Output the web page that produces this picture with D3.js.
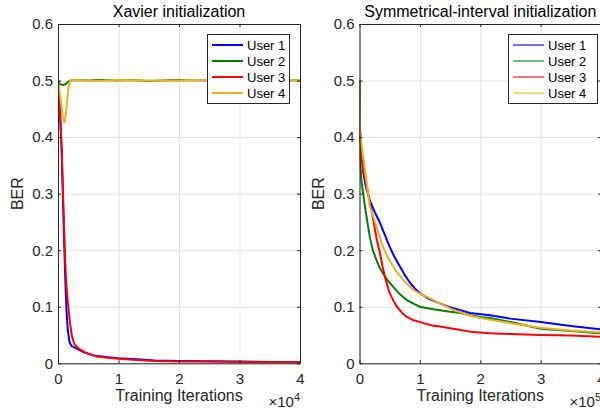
<!DOCTYPE html>
<html><head><meta charset="utf-8">
<script src="https://cdn.jsdelivr.net/npm/d3@7"></script>
<style>body{margin:0;background:#fff} svg{display:block}</style>
</head><body>
<svg id="c" width="600" height="412"></svg>
<script>
// ---------- data ----------
const users = ["User 1", "User 2", "User 3", "User 4"];
const colors = ["#0000ff", "#008000", "#ff0000", "#edb120"];
const titles = ["Xavier initialization", "Symmetrical-interval initialization"];
const exponents = ["4", "5"];
const xTicks = [0, 1, 2, 3, 4];
const xTickLabels = ["0", "1", "2", "3", "4"];
const yTicks = [0, 0.1, 0.2, 0.3, 0.4, 0.5, 0.6];
const yTickLabels = ["0", "0.1", "0.2", "0.3", "0.4", "0.5", "0.6"];
const xLabel = "Training Iterations";
const yLabel = "BER";

// Xavier initialization (x in units of 1e4)
const xavierUser1 = [[0,0.5],[0.03,0.45],[0.06,0.38],[0.08,0.30],[0.10,0.22],[0.12,0.15],[0.14,0.095],[0.16,0.06],[0.19,0.038],[0.22,0.031],[0.31,0.026],[0.42,0.020],[0.58,0.014],[0.8,0.011],[1.0,0.009],[1.3,0.007],[1.6,0.005],[2.0,0.004],[2.5,0.0035],[3.0,0.003],[3.5,0.0025],[4.0,0.002]];
const xavierUser2 = [[0,0.5],[0.03,0.494],[0.08,0.492],[0.13,0.494],[0.18,0.499],[0.25,0.501],[0.5,0.500],[0.7,0.501],[1.0,0.500],[1.2,0.501],[1.5,0.499],[2.0,0.501],[2.5,0.500],[3.0,0.499],[3.5,0.501],[4.0,0.500]];
const xavierUser3 = [[0,0.5],[0.03,0.45],[0.06,0.38],[0.08,0.31],[0.10,0.24],[0.12,0.18],[0.14,0.135],[0.17,0.10],[0.20,0.07],[0.23,0.048],[0.27,0.034],[0.34,0.026],[0.47,0.018],[0.64,0.012],[0.82,0.010],[1.0,0.008],[1.3,0.006],[1.6,0.004],[2.0,0.003],[2.5,0.003],[3.0,0.0025],[3.5,0.002],[4.0,0.002]];
const xavierUser4 = [[0,0.5],[0.04,0.47],[0.08,0.435],[0.11,0.426],[0.14,0.45],[0.17,0.485],[0.20,0.500],[0.3,0.501],[0.6,0.499],[1.0,0.501],[1.4,0.500],[1.8,0.499],[2.2,0.501],[2.6,0.500],[3.0,0.502],[3.4,0.500],[3.8,0.501],[4.0,0.500]];

// Symmetrical-interval initialization (x in units of 1e5)
const symUser1 = [[0,0.5],[0.005,0.42],[0.02,0.385],[0.06,0.34],[0.10,0.315],[0.17,0.288],[0.25,0.268],[0.34,0.248],[0.42,0.227],[0.50,0.206],[0.58,0.188],[0.67,0.171],[0.75,0.156],[0.84,0.142],[0.92,0.132],[1.0,0.124],[1.15,0.114],[1.33,0.106],[1.5,0.099],[1.67,0.094],[1.83,0.089],[2.16,0.085],[2.5,0.079],[3.0,0.073],[3.5,0.066],[4.0,0.060]];
const symUser2 = [[0,0.5],[0.004,0.40],[0.01,0.36],[0.03,0.325],[0.06,0.30],[0.10,0.27],[0.17,0.224],[0.22,0.20],[0.28,0.183],[0.33,0.17],[0.39,0.159],[0.47,0.146],[0.56,0.135],[0.67,0.122],[0.78,0.112],[0.9,0.105],[1.0,0.100],[1.15,0.097],[1.33,0.094],[1.5,0.091],[1.67,0.089],[1.83,0.085],[2.0,0.082],[2.16,0.080],[2.5,0.073],[3.0,0.061],[3.5,0.057],[4.0,0.053]];
const symUser3 = [[0,0.5],[0.005,0.42],[0.02,0.39],[0.06,0.34],[0.11,0.32],[0.17,0.285],[0.23,0.253],[0.28,0.222],[0.34,0.194],[0.38,0.172],[0.42,0.153],[0.46,0.138],[0.50,0.124],[0.56,0.111],[0.62,0.100],[0.70,0.090],[0.78,0.082],[0.9,0.076],[1.06,0.071],[1.2,0.067],[1.33,0.065],[1.5,0.062],[1.67,0.059],[1.83,0.056],[2.16,0.053],[2.5,0.052],[3.0,0.050],[3.5,0.049],[4.0,0.047]];
const symUser4 = [[0,0.5],[0.005,0.42],[0.03,0.389],[0.09,0.342],[0.17,0.277],[0.23,0.259],[0.30,0.235],[0.39,0.206],[0.47,0.187],[0.56,0.171],[0.64,0.158],[0.73,0.147],[0.81,0.138],[0.89,0.130],[1.0,0.123],[1.11,0.118],[1.33,0.106],[1.5,0.097],[1.67,0.090],[1.83,0.084],[2.0,0.080],[2.16,0.077],[2.5,0.071],[3.0,0.063],[3.5,0.058],[4.0,0.055]];

const panelSeries = [
  [xavierUser1, xavierUser2, xavierUser3, xavierUser4],
  [symUser1, symUser2, symUser3, symUser4]
];

// ---------- layout ----------
const panels = [
  {x0: 58, x1: 300, y0: 24, y1: 363.3, lw: 2.0, legLw: 2.0, leg: {x: 207, w: 82}, ylabX: 23},
  {x0: 359.5, x1: 601, y0: 24, y1: 363.3, lw: 2.0, legLw: 1.1, leg: {x: 508, w: 89}, ylabX: 324}
];
const axisColor = "#262626";
const gridColor = "#e3e3e3";
const font = "'Liberation Sans', Arial, Helvetica, sans-serif";

const svg = d3.select("#c").style("font-family", font);

panels.forEach((p, pi) => {
  const x = d3.scaleLinear().domain([0, 4]).range([p.x0, p.x1]);
  const y = d3.scaleLinear().domain([0, 0.6]).range([p.y1, p.y0]);
  const g = svg.append("g");

  // grid
  g.append("g").attr("transform", `translate(0,${p.y1})`)
    .call(d3.axisBottom(x).tickValues(xTicks).tickSize(-(p.y1 - p.y0)).tickFormat(""))
    .call(a => { a.select(".domain").remove(); a.selectAll("line").attr("stroke", gridColor).attr("stroke-width", 1); });
  g.append("g").attr("transform", `translate(${p.x0},0)`)
    .call(d3.axisLeft(y).tickValues(yTicks).tickSize(-(p.x1 - p.x0)).tickFormat(""))
    .call(a => { a.select(".domain").remove(); a.selectAll("line").attr("stroke", gridColor).attr("stroke-width", 1); });

  // clip
  const cid = "clip" + pi;
  svg.append("clipPath").attr("id", cid).append("rect")
    .attr("x", p.x0).attr("y", p.y0 - 1).attr("width", p.x1 - p.x0).attr("height", p.y1 - p.y0 + 1);

  const line = d3.line().x(d => x(d[0])).y(d => y(d[1]));
  const lg = g.append("g").attr("clip-path", `url(#${cid})`);
  panelSeries[pi].forEach((s, si) => {
    lg.append("path").datum(s).attr("d", line)
      .attr("fill", "none").attr("stroke", colors[si]).attr("stroke-width", p.lw)
      .attr("stroke-linejoin", "round");
  });

  // axes (box with inward ticks on all sides)
  const tl = 3;
  const styleAxis = a => {
    a.select(".domain").attr("stroke", axisColor);
    a.selectAll(".tick line").attr("stroke", axisColor);
    a.selectAll("text").attr("fill", axisColor).style("font-size", "15px").style("font-family", font);
  };
  g.append("g").attr("transform", `translate(0,${p.y1})`)
    .call(d3.axisBottom(x).tickValues(xTicks).tickFormat((d, i) => xTickLabels[i]).tickSizeInner(-tl).tickSizeOuter(0).tickPadding(10))
    .call(styleAxis);
  g.append("g").attr("transform", `translate(0,${p.y0})`)
    .call(d3.axisTop(x).tickValues(xTicks).tickFormat("").tickSizeInner(-tl).tickSizeOuter(0))
    .call(styleAxis);
  g.append("g").attr("transform", `translate(${p.x0},0)`)
    .call(d3.axisLeft(y).tickValues(yTicks).tickFormat((d, i) => yTickLabels[i]).tickSizeInner(-tl).tickSizeOuter(0).tickPadding(5))
    .call(styleAxis);
  g.append("g").attr("transform", `translate(${p.x1},0)`)
    .call(d3.axisRight(y).tickValues(yTicks).tickFormat("").tickSizeInner(-tl).tickSizeOuter(0))
    .call(styleAxis);

  // title
  g.append("text").attr("x", (p.x0 + p.x1) / 2).attr("y", 17).attr("text-anchor", "middle")
    .attr("fill", "#000").style("font-size", "16px").text(titles[pi]);
  // x label
  g.append("text").attr("x", (p.x0 + p.x1) / 2).attr("y", 401).attr("text-anchor", "middle")
    .attr("fill", axisColor).style("font-size", "16px").text(xLabel);
  // exponent
  const ex = g.append("text").attr("x", p.x1).attr("y", 407).attr("text-anchor", "end")
    .attr("fill", axisColor).style("font-size", "15px");
  ex.append("tspan").text("\u00d710");
  ex.append("tspan").attr("dy", -6).style("font-size", "11px").text(exponents[pi]);
  // y label
  g.append("text").attr("transform", `translate(${p.ylabX},${(p.y0 + p.y1) / 2}) rotate(-90)`)
    .attr("text-anchor", "middle").attr("fill", axisColor).style("font-size", "16px").text(yLabel);

  // legend
  const L = p.leg;
  const lgd = g.append("g");
  lgd.append("rect").attr("x", L.x + 0.5).attr("y", 34.5).attr("width", L.w).attr("height", 69)
    .attr("fill", "#fff").attr("stroke", axisColor).attr("stroke-width", 1);
  users.forEach((u, i) => {
    const cy = 45 + i * 16;
    lgd.append("line").attr("x1", L.x + 5).attr("x2", L.x + 36).attr("y1", cy).attr("y2", cy)
      .attr("stroke", colors[i]).attr("stroke-width", p.legLw);
    lgd.append("text").attr("x", L.x + 40).attr("y", cy + 4.7).attr("fill", "#000")
      .style("font-size", "13px").text(u);
  });
});
</script>
</body></html>
